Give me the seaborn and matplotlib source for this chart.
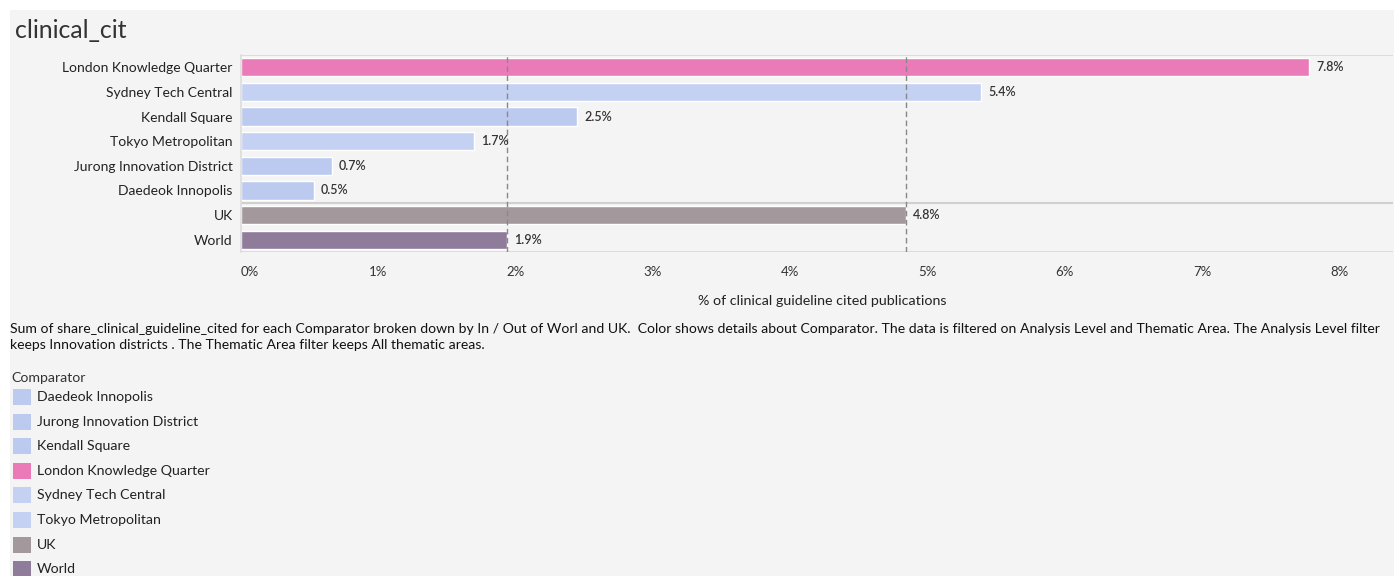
import matplotlib
matplotlib.use("Agg")
import matplotlib.pyplot as plt
import matplotlib.patches as mpatches
import seaborn as sns
import pandas as pd

# ---- data ----
comparators = ["London Knowledge Quarter", "Sydney Tech Central", "Kendall Square",
               "Tokyo Metropolitan", "Jurong Innovation District", "Daedeok Innopolis",
               "UK", "World"]
values = [7.78, 5.39, 2.45, 1.70, 0.66, 0.53, 4.84, 1.94]
value_labels = ["7.8%", "5.4%", "2.5%", "1.7%", "0.7%", "0.5%", "4.8%", "1.9%"]
bar_colors = ["#eb7ab8", "#c4d1f2", "#bdcaf0", "#c4d1f2", "#bdcaf0", "#bdcaf0", "#a3999c", "#8f7b9a"]
legend_order = ["Daedeok Innopolis", "Jurong Innovation District", "Kendall Square",
                "London Knowledge Quarter", "Sydney Tech Central", "Tokyo Metropolitan",
                "UK", "World"]
x_ticks = [0, 1, 2, 3, 4, 5, 6, 7, 8]
x_tick_labels = ["0%", "1%", "2%", "3%", "4%", "5%", "6%", "7%", "8%"]
ref_lines = [1.94, 4.84]  # World and UK averages

title = "clinical_cit"
x_label = "% of clinical guideline cited publications"
caption = ("Sum of share_clinical_guideline_cited for each Comparator broken down by In / Out of Worl and UK.  "
           "Color shows details about Comparator. The data is filtered on Analysis Level and Thematic Area. "
           "The Analysis Level filter\nkeeps Innovation districts . The Thematic Area filter keeps All thematic areas.")

df = pd.DataFrame({"Comparator": comparators, "value": values})
palette = dict(zip(comparators, bar_colors))

sns.set_theme(style="white")
plt.rcParams["font.family"] = ["Lato", "DejaVu Sans"]

W, H = 1394, 576
fig = plt.figure(figsize=(W / 100, H / 100), dpi=100, facecolor="white")
bg = "#f4f4f4"
fig.patches.append(mpatches.Rectangle((10 / W, 0), 1, 1 - 10 / H, transform=fig.transFigure,
                                      facecolor=bg, edgecolor="none", zorder=-10))

def fx(px):
    return px / W

def fy(py):
    return 1 - py / H

ax = fig.add_axes([fx(241), fy(252), fx(1393) - fx(241), fy(55) - fy(252)])
ax.set_facecolor(bg)

sns.barplot(data=df, y="Comparator", x="value", hue="Comparator", palette=palette,
            order=comparators, hue_order=comparators, dodge=False, legend=False,
            width=0.74, saturation=1, ax=ax, orient="h")

ax.set_xlim(0, 8.39)
ax.set_ylim(len(comparators) - 0.5, -0.5)
ax.set_xticks(x_ticks)
ax.set_xticklabels(x_tick_labels, fontsize=9.5, color="#333333")
ax.tick_params(axis="x", length=0, pad=10)
ax.tick_params(axis="y", length=0, pad=6)
ax.set_yticks(range(len(comparators)))
ax.set_yticklabels(comparators, fontsize=10, color="#222222")
ax.set_ylabel("")
ax.set_xlabel("")
fig.text(fx(822), fy(301), x_label, fontsize=10.3, color="#222222", ha="center", va="center")

for s in ["top", "right", "bottom", "left"]:
    ax.spines[s].set_visible(False)
ax.spines["left"].set_visible(True)
ax.spines["left"].set_color("#dddddd")
ax.axhline(-0.5, color="#d8d8d8", lw=1.2)
ax.axhline(5.5, color="#d0d0d0", lw=1.5)
ax.axhline(7.5, color="#d8d8d8", lw=1.2)

for rl in ref_lines:
    ax.axvline(rl, color="#888888", lw=1, ls=(0, (4, 2.5)), zorder=5)

for i, (v, lab) in enumerate(zip(values, value_labels)):
    ax.text(v + 0.05, i, lab, va="center", ha="left", fontsize=9, color="#333333",
            fontweight="semibold", zorder=6)

# first tick label shifted like the reference
ax.get_xticklabels()[0].set_ha("left")

fig.text(fx(15), fy(31), title, fontsize=17.9, color="#333333", va="center", ha="left")
fig.text(fx(10), fy(337), caption, fontsize=10.1, color="#111111", va="center", ha="left",
         linespacing=1.35)

fig.text(fx(11), fy(378), "Comparator", fontsize=10.2, color="#333333", va="center", ha="left")
for k, name in enumerate(legend_order):
    yc = 397 + k * 24.6
    fig.patches.append(mpatches.Rectangle((fx(13), fy(yc + 8)), fx(18), 16 / H,
                                          transform=fig.transFigure, facecolor=palette[name],
                                          edgecolor="none"))
    fig.text(fx(37), fy(yc), name, fontsize=10.2, color="#222222", va="center", ha="left")

fig.savefig("out.png", dpi=100, facecolor="white")
